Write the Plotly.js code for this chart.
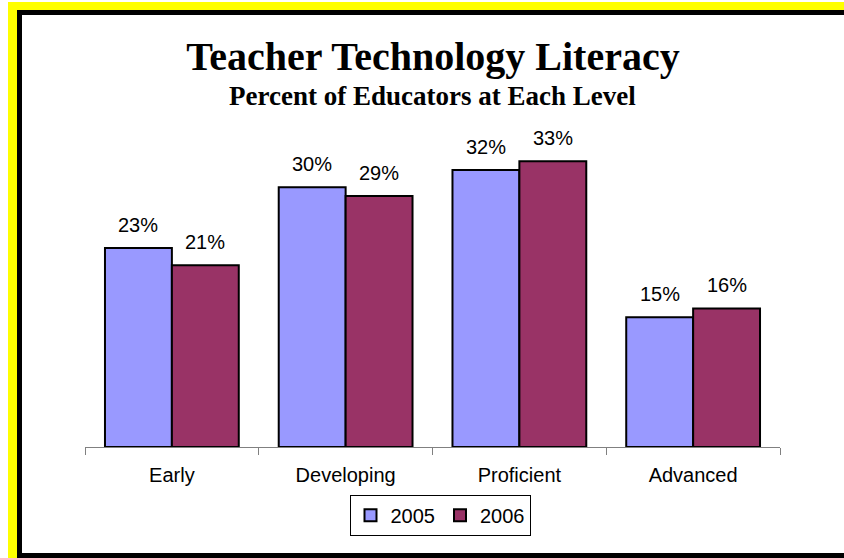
<!DOCTYPE html>
<html>
<head>
<meta charset="utf-8">
<script src="https://cdn.plot.ly/plotly-3.0.1.min.js"></script>
<style>
  html, body { margin: 0; padding: 0; background: #ffffff; }
  #wrap { position: relative; width: 844px; height: 558px; overflow: hidden; }
  #yellow { position: absolute; left: 8px; top: 2px; width: 900px; height: 600px; background: #FFFF00; }
  #frame { position: absolute; left: 17px; top: 10px; width: 900px; height: 548px; box-sizing: border-box; border: 5px solid #000; background: #fff; }
  #chart { position: absolute; left: 0; top: 0; width: 844px; height: 558px; }
</style>
</head>
<body>
<div id="wrap">
  <div id="yellow"></div>
  <div id="frame"></div>
  <div id="chart"></div>
</div>
<script>
const categories = ['Early', 'Developing', 'Proficient', 'Advanced'];
const seriesNames = ['2005', '2006'];
const values2005 = [23, 30, 32, 15];
const values2006 = [21, 29, 33, 16];
const seriesColors = ['#9999FF', '#993366'];
const chartTitle = 'Teacher Technology Literacy';
const chartSubtitle = 'Percent of Educators at Each Level';

const W = 844, H = 558;
const margin = {l: 85, r: 64, t: 144, b: 111};
const bargap = 0.23;
const plotW = W - margin.l - margin.r;
const plotH = H - margin.t - margin.b;
const catW = plotW / categories.length;
const barW = catW * (1 - bargap) / seriesNames.length;
const titleCenterX = 433;

const seriesValues = [values2005, values2006];
const traces = seriesValues.map((vals, j) => ({
  type: 'bar',
  name: seriesNames[j],
  x: categories,
  y: vals,
  marker: {color: seriesColors[j], line: {color: '#000000', width: 2}},
  hoverinfo: 'none'
}));

const annotations = [];
seriesValues.forEach((vals, j) => {
  vals.forEach((v, i) => {
    annotations.push({
      x: categories[i], y: v, xref: 'x', yref: 'y',
      text: v + '%', showarrow: false,
      xanchor: 'center', yanchor: 'bottom',
      xshift: (j - (seriesNames.length - 1) / 2) * barW,
      yshift: 10,
      font: {family: 'Liberation Sans, Arial, sans-serif', size: 20, color: '#000'}
    });
  });
});
annotations.push({
  text: '<b>' + chartSubtitle + '</b>',
  xref: 'paper', yref: 'paper',
  x: (titleCenterX - margin.l) / plotW, y: (H - margin.b - 96) / plotH,
  xanchor: 'center', yanchor: 'middle', showarrow: false,
  font: {family: 'Liberation Serif, Times New Roman, serif', size: 27, color: '#000'}
});

const layout = {
  width: W, height: H,
  margin: margin,
  paper_bgcolor: 'rgba(0,0,0,0)',
  plot_bgcolor: 'rgba(0,0,0,0)',
  title: {
    text: '<b>' + chartTitle + '</b>',
    font: {family: 'Liberation Serif, Times New Roman, serif', size: 40, color: '#000'},
    xref: 'container', yref: 'container', x: titleCenterX / W, xanchor: 'center',
    y: 1 - 56 / H, yanchor: 'middle'
  },
  barmode: 'group',
  bargap: bargap,
  bargroupgap: 0,
  xaxis: {
    type: 'category',
    showline: true, linecolor: '#808080', linewidth: 1,
    ticks: 'outside', tickson: 'boundaries', ticklen: 7, tickcolor: '#808080', tickwidth: 1,
    ticklabelstandoff: 10,
    showgrid: false, zeroline: false,
    tickfont: {family: 'Liberation Sans, Arial, sans-serif', size: 20, color: '#000'}
  },
  yaxis: {range: [0, 35], visible: false, showgrid: false, zeroline: false},
  showlegend: true,
  legend: {
    orientation: 'h', x: (440 - margin.l) / plotW, xanchor: 'center', y: -0.158, yanchor: 'top',
    bordercolor: '#000', borderwidth: 1, bgcolor: '#fff',
    font: {family: 'Liberation Sans, Arial, sans-serif', size: 20, color: '#000'},
    itemwidth: 30, tracegroupgap: 0
  },
  annotations: annotations
};

Plotly.newPlot('chart', traces, layout, {displayModeBar: false, staticPlot: true});
</script>
</body>
</html>
